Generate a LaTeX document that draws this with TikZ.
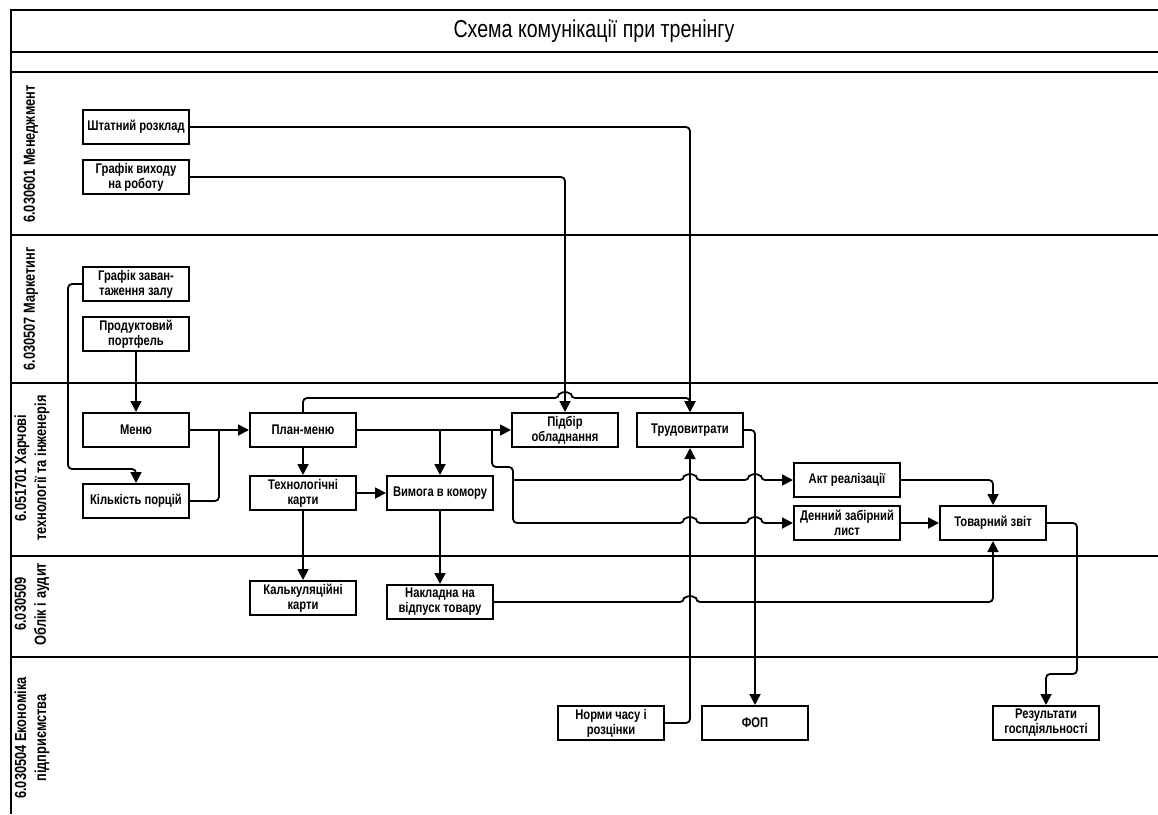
\documentclass[tikz,border=0pt]{standalone}
\usepackage{fontspec}
\setmainfont{Liberation Sans}
\newfontfamily\narrowsans[FakeStretch=0.8]{Liberation Sans}
\usetikzlibrary{arrows.meta}

\begin{document}
\begin{tikzpicture}[x=1pt,y=-1pt,
  blok/.style={draw,line width=2pt,minimum width=106pt,minimum height=34pt,
    inner sep=1pt,align=center,font=\narrowsans\bfseries\fontsize{14}{15}\selectfont},
  zv/.style={line width=1.8pt,rounded corners=4pt,-{Triangle[length=11pt,width=11pt]}},
  lin/.style={line width=1.8pt,rounded corners=4pt},
  smuga/.style={line width=1.8pt},
  lane/.style={rotate=90,align=center,font=\narrowsans\bfseries\fontsize{16}{20}\selectfont}]
\useasboundingbox (0,0) rectangle (1158,814);
% frame and lanes
\draw[smuga] (1158,10) -- (11,10) -- (11,814);
\foreach \y in {52,72,235,383,556,657}
  \draw[smuga] (11,\y) -- (1158,\y);
\node[font=\narrowsans\fontsize{24.5}{28}\selectfont] (nazva) at (594,31) {Схема комунікації при тренінгу};
\node[lane] (l1) at (31,154) {6.030601 Менеджмент};
\node[lane] (l2) at (31,309) {6.030507 Маркетинг};
\node[lane] (l3) at (32,468) {6.051701 Харчові\\технології та інженерія};
\node[lane] (l4) at (32,604) {6.030509\\Облік і аудит};
\node[lane] (l5) at (32,738) {6.030504 Економіка\\підприємства};
% boxes
\node[blok] (shtat) at (136,127) {Штатний розклад};
\node[blok] (grafvyh) at (136,177) {Графік виходу\\на роботу};
\node[blok] (grafzal) at (136,284) {Графік заван-\\таження залу};
\node[blok] (portf) at (136,334) {Продуктовий\\портфель};
\node[blok] (menu) at (136,430) {Меню};
\node[blok] (porc) at (136,501) {Кількість порцій};
\node[blok] (plan) at (303,430) {План-меню};
\node[blok] (tehk) at (303,493) {Технологічні\\карти};
\node[blok] (kalk) at (303,598) {Калькуляційні\\карти};
\node[blok] (vymoga) at (440,493) {Вимога в комору};
\node[blok] (naklad) at (440,602) {Накладна на\\відпуск товару};
\node[blok] (pidbir) at (565,430) {Підбір\\обладнання};
\node[blok] (trud) at (690,430) {Трудовитрати};
\node[blok] (akt) at (847,480) {Акт реалізації};
\node[blok] (denny) at (847,523) {Денний забірний\\лист};
\node[blok] (tovzvit) at (993,523) {Товарний звіт};
\node[blok] (normy) at (611,723) {Норми часу і\\розцінки};
\node[blok] (fop) at (755,723) {ФОП};
\node[blok] (rezult) at (1046,723) {Результати\\госпдіяльності};
% connectors
\draw[zv] (shtat.east) -| (trud.north);
\draw[zv] (grafvyh.east) -| (pidbir.north);
\draw[zv] (grafzal.west) -- (68,284) -- (68,469) -| (porc.north);
\draw[zv] (portf.south) -- (menu.north);
\draw[zv] (menu.east) -- (plan.west);
\draw[lin] (porc.east) -| (219,430);
\draw[zv] (plan.south) -- (tehk.north);
\draw[zv] (tehk.east) -- (vymoga.west);
\draw[zv] (tehk.south) -- (kalk.north);
\draw[zv] (vymoga.south) -- (naklad.north);
\draw[zv] (plan.east) -- (pidbir.west);
\draw[zv] (plan.east -| vymoga.north) -- (vymoga.north);
\draw[zv] (plan.north) -- (303,398) -- (559,398) arc[start angle=180,end angle=0,radius=6pt]
  -- (690,398) -- (trud.north);
\draw[zv] (492,430) -- (492,467) -- (513,467) -- (513,523)
  -- (684,523) arc[start angle=180,end angle=0,radius=6pt]
  -- (749,523) arc[start angle=180,end angle=0,radius=6pt] -- (denny.west);
\draw[zv] (513,480) -- (684,480) arc[start angle=180,end angle=0,radius=6pt]
  -- (749,480) arc[start angle=180,end angle=0,radius=6pt] -- (akt.west);
\draw[zv] (normy.east) -| (trud.south);
\draw[zv] (trud.east) -| (fop.north);
\draw[zv] (naklad.east) -- (684,602) arc[start angle=180,end angle=0,radius=6pt]
  -| (tovzvit.south);
\draw[zv] (akt.east) -| (tovzvit.north);
\draw[zv] (denny.east) -- (tovzvit.west);
\draw[zv] (tovzvit.east) -- (1077,523) -- (1077,674) -- (1046,674) -- (rezult.north);
\end{tikzpicture}
\end{document}
